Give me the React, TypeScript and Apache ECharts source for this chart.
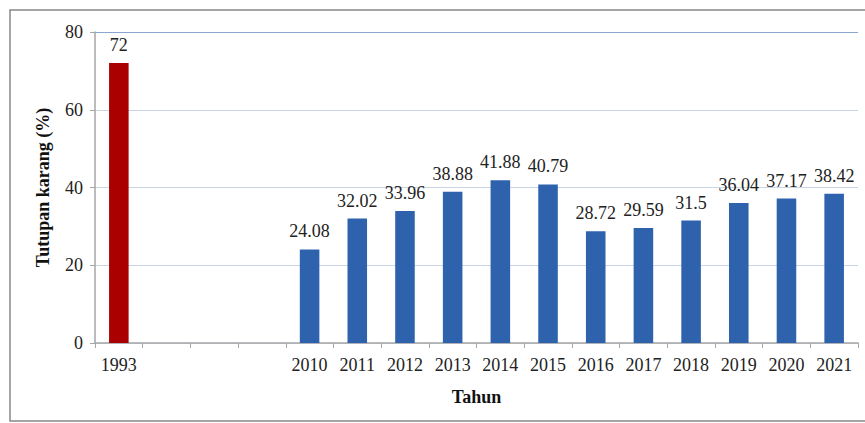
import React, { useEffect, useRef } from "react";
import * as echarts from "echarts";

const categories = ["1993", "", "", "", "2010", "2011", "2012", "2013", "2014", "2015", "2016", "2017", "2018", "2019", "2020", "2021"];
const values: (number | null)[] = [72, null, null, null, 24.08, 32.02, 33.96, 38.88, 41.88, 40.79, 28.72, 29.59, 31.5, 36.04, 37.17, 38.42];
const yTicks = [0, 20, 40, 60, 80];

const RED = "#aa0000";
const BLUE = "#2e62ad";
const FONT = "'Liberation Serif', 'DejaVu Serif', serif";

export default function App() {
  const ref = useRef<HTMLDivElement>(null);
  useEffect(() => {
    if (!ref.current) return;
    const chart = echarts.init(ref.current, undefined, { renderer: "svg" });
    chart.setOption({
      animation: false,
      backgroundColor: "#ffffff",
      textStyle: { fontFamily: FONT },
      grid: { left: 95, right: 7, top: 32, bottom: 80 },
      graphic: [
        {
          type: "rect",
          shape: { x: 10, y: 10, width: 880, height: 411 },
          style: { fill: "none", stroke: "#888888", lineWidth: 1.5 },
          z: -1,
        },
      ],
      xAxis: {
        type: "category",
        data: categories,
        name: "Tahun",
        nameLocation: "middle",
        nameGap: 45,
        nameTextStyle: { fontFamily: FONT, fontWeight: "bold", fontSize: 18, color: "#111" },
        axisLine: { lineStyle: { color: "#a6a6a6", width: 1.5 } },
        axisTick: { show: true, alignWithLabel: false, length: 5, lineStyle: { color: "#a6a6a6" } },
        axisLabel: { fontFamily: FONT, fontSize: 18, color: "#222", margin: 13, interval: 0 },
      },
      yAxis: {
        type: "value",
        min: yTicks[0],
        max: yTicks[yTicks.length - 1],
        interval: 20,
        name: "Tutupan karang (%)",
        nameLocation: "middle",
        nameGap: 43,
        nameRotate: 90,
        nameTextStyle: { fontFamily: FONT, fontWeight: "bold", fontSize: 18, color: "#111" },
        axisLine: { show: true, lineStyle: { color: "#a6a6a6", width: 1.5 } },
        axisTick: { show: true, length: 5, lineStyle: { color: "#a6a6a6" } },
        axisLabel: { fontFamily: FONT, fontSize: 18, color: "#222", margin: 12 },
        splitLine: {
          show: true,
          lineStyle: { color: ["#c9d5e6", "#c9d5e6", "#c9d5e6", "#c9d5e6", "#8aa6d0"], width: 1.2 },
        },
      },
      series: [
        {
          type: "bar",
          barWidth: "41%",
          data: values.map((v, i) =>
            v === null ? "-" : { value: v, itemStyle: { color: i === 0 ? RED : BLUE } }
          ),
          label: {
            show: true,
            position: "top",
            distance: 9,
            fontFamily: FONT,
            fontSize: 18,
            color: "#222",
          },
        },
      ],
    });
    return () => chart.dispose();
  }, []);
  return (
    <div
      ref={ref}
      style={{ position: "fixed", left: 0, top: 0, width: 865, height: 423 }}
    />
  );
}
